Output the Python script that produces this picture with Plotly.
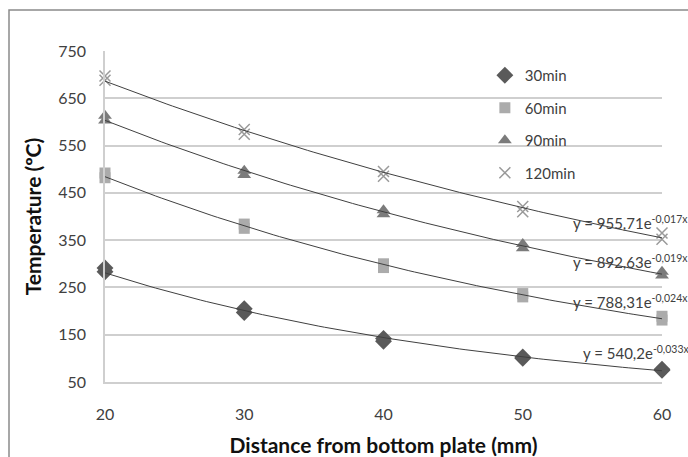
import numpy as np
import plotly.graph_objects as go

# ---- data ----
distance_mm = [20, 30, 40, 50, 60]
# two measurements per position (markers overlap in the picture)
temp_30min = [[283, 291], [197, 205], [136, 142], [100, 103], [75, 77]]
temp_60min = [[482, 492], [375, 384], [292, 300], [230, 237], [181, 189]]
temp_90min = [[603, 613], [488, 497], [405, 413], [333, 342], [275, 283]]
temp_120min = [[688, 697], [574, 584], [485, 495], [410, 421], [352, 365]]

series_names = ["30min", "60min", "90min", "120min"]
equation_main = ["y = 540,2e", "y = 788,31e", "y = 892,63e", "y = 955,71e"]
equation_exp = ["-0,033x", "-0,024x", "-0,019x", "-0,017x"]
x_ticks = [20, 30, 40, 50, 60]
y_ticks = [50, 150, 250, 350, 450, 550, 650, 750]

# ---- styling ----
FONT = "Lato, 'Open Sans', sans-serif"
styles = [
    dict(symbol="diamond", color="#5a5a5a", size=13, line=dict(width=0)),
    dict(symbol="square", color="#ababab", size=11, line=dict(width=0)),
    dict(symbol="triangle-up", color="#7b7b7b", size=12, line=dict(width=0)),
    dict(symbol="x-thin", color="#9a9a9a", size=11, line=dict(width=1.5, color="#9a9a9a")),
]
eq_pos = [(54.2, 113), (53.5, 221), (53.5, 304), (53.5, 388)]

all_series = [temp_30min, temp_60min, temp_90min, temp_120min]

fig = go.Figure()
for name, data, st in zip(series_names, all_series, styles):
    xs, ys = [], []
    for d, pair in zip(distance_mm, data):
        for v in pair:
            xs.append(d)
            ys.append(v)
    fig.add_trace(go.Scatter(
        x=xs, y=ys, mode="markers", name=name,
        marker=st, cliponaxis=False, legendgroup=name,
    ))

# exponential trend lines fitted to the data
xf = np.linspace(distance_mm[0], distance_mm[-1], 100)
for name, data in zip(series_names, all_series):
    xs = np.repeat(distance_mm, 2)
    ys = np.array(data).ravel()
    b, lna = np.polyfit(xs, np.log(ys), 1)
    fig.add_trace(go.Scatter(
        x=xf, y=np.exp(lna) * np.exp(b * xf), mode="lines",
        line=dict(color="#404040", width=1), showlegend=False,
        hoverinfo="skip", cliponaxis=False,
    ))

for main, ex_txt, (ex, ey) in zip(equation_main, equation_exp, eq_pos):
    fig.add_annotation(x=ex, y=ey, xref="x", yref="y",
                       text=main + "<sup>" + ex_txt + "</sup>",
                       showarrow=False, xanchor="left", yanchor="middle",
                       font=dict(family=FONT, size=15, color="#404040"))

W, H = 688, 457
L, R, T, B = 105, 26, 51, 75
pw, ph = W - L - R, H - T - B
# outer chart border (top and left visible)
fig.add_shape(type="rect", xref="paper", yref="paper",
              x0=(9 - L) / pw, x1=(W + 20 - L) / pw,
              y0=-(H + 20 - T - ph) / ph, y1=1 + (T - 10) / ph,
              line=dict(color="#8a8a8a", width=1.5), layer="below")

fig.update_layout(
    width=W, height=H,
    margin=dict(l=L, r=R, t=T, b=B, autoexpand=False),
    paper_bgcolor="white", plot_bgcolor="white",
    font=dict(family=FONT, color="#404040"),
    showlegend=True,
    legend=dict(x=0.682, y=0.976, xanchor="left", yanchor="top",
                bgcolor="rgba(0,0,0,0)", font=dict(size=15, color="#404040"),
                traceorder="grouped", tracegroupgap=10, itemwidth=30),
    xaxis=dict(range=[20, 60], tickvals=x_ticks, showgrid=False,
               zeroline=False, showline=True, linecolor="#cfcfcf",
               linewidth=2, ticks="", automargin=False,
               tickfont=dict(size=16, color="#404040"), ticklabelstandoff=17,
               title=dict(text="<b>Distance from bottom plate (mm)</b>",
                          font=dict(size=21, color="#111111"), standoff=24)),
    yaxis=dict(range=[50, 750], tickvals=y_ticks, showgrid=True,
               gridcolor="#cfcfcf", gridwidth=1.5, zeroline=False,
               showline=True, linecolor="#cfcfcf", linewidth=1.5, ticks="",
               automargin=False,
               tickfont=dict(size=16, color="#404040"), ticklabelstandoff=14,
               title=dict(text="<b>Temperature (ºC)</b>",
                          font=dict(size=21, color="#111111"), standoff=11)),
)
fig.write_html("out.html", config={"displayModeBar": False})

# remove the browser's default 8px page margin so the figure sits at (0, 0)
with open("out.html", encoding="utf-8") as f:
    html = f.read()
html = html.replace("<body>", '<body style="margin:0;padding:0;overflow:hidden">', 1)
with open("out.html", "w", encoding="utf-8") as f:
    f.write(html)
